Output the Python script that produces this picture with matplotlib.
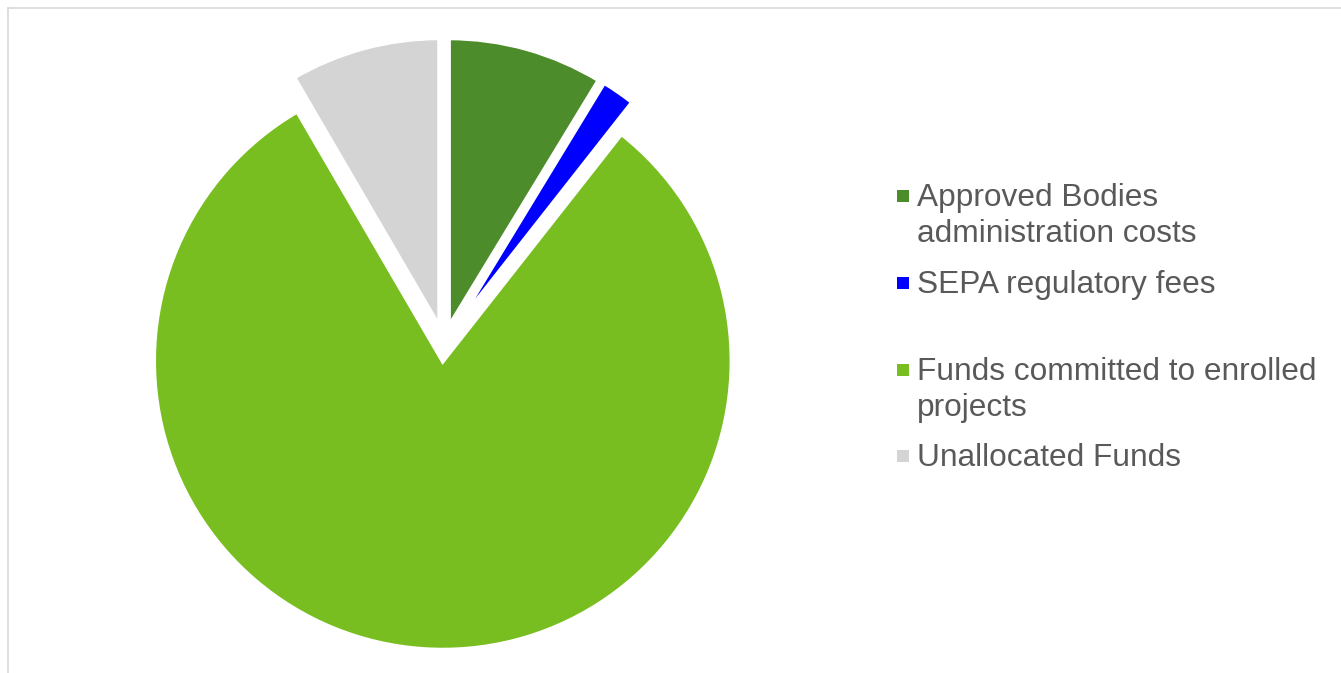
import matplotlib.pyplot as plt
from matplotlib.lines import Line2D
from matplotlib.patches import Rectangle

plt.rcParams['font.family'] = ['Liberation Sans', 'DejaVu Sans']

# share of funds (%), clockwise from 12 o'clock
labels = ['Approved Bodies\nadministration costs',
          'SEPA regulatory fees',
          'Funds committed to enrolled\nprojects',
          'Unallocated Funds']
shares = [8.7, 1.9, 81.0, 8.4]
colors = ['#4c8c2b', '#0000ff', '#78be21', '#d4d4d4']

W, H = 1341, 673
fig = plt.figure(figsize=(W / 100, H / 100), dpi=100)
ax = fig.add_axes([0, 0, 1, 1])

# explode is in data units here (axes are in pixels)
ax.pie(shares, colors=colors, startangle=90, counterclock=False,
       center=(444, H - 343.7), radius=289, explode=[17.3] * len(shares),
       wedgeprops=dict(edgecolor='white', linewidth=3.2))
ax.set_xlim(0, W)
ax.set_ylim(0, H)
ax.set_aspect('equal')
ax.axis('off')

# legend drawn by hand so entries sit on an even pitch
text_col = '#595959'
first_base = 206
pitch = 87
line_gap = 36
for i, (lab, col) in enumerate(zip(labels, colors)):
    base = first_base + i * pitch - (1 if i == 3 else 0)
    ax.add_patch(Rectangle((897, H - base + 4), 12, 12, color=col, lw=0))
    for j, line in enumerate(lab.split('\n')):
        ax.text(917, H - (base + j * line_gap), line, fontsize=22.8,
                color=text_col, va='baseline', ha='left')

# thin chart-area border
fig.add_artist(Line2D([7.5 / W, 1], [1 - 7.5 / H, 1 - 7.5 / H],
                      transform=fig.transFigure, color='#d9d9d9', lw=1.2))
fig.add_artist(Line2D([7.5 / W, 7.5 / W], [0, 1 - 7.5 / H],
                      transform=fig.transFigure, color='#d9d9d9', lw=1.2))

fig.savefig('out.png', dpi=100)
